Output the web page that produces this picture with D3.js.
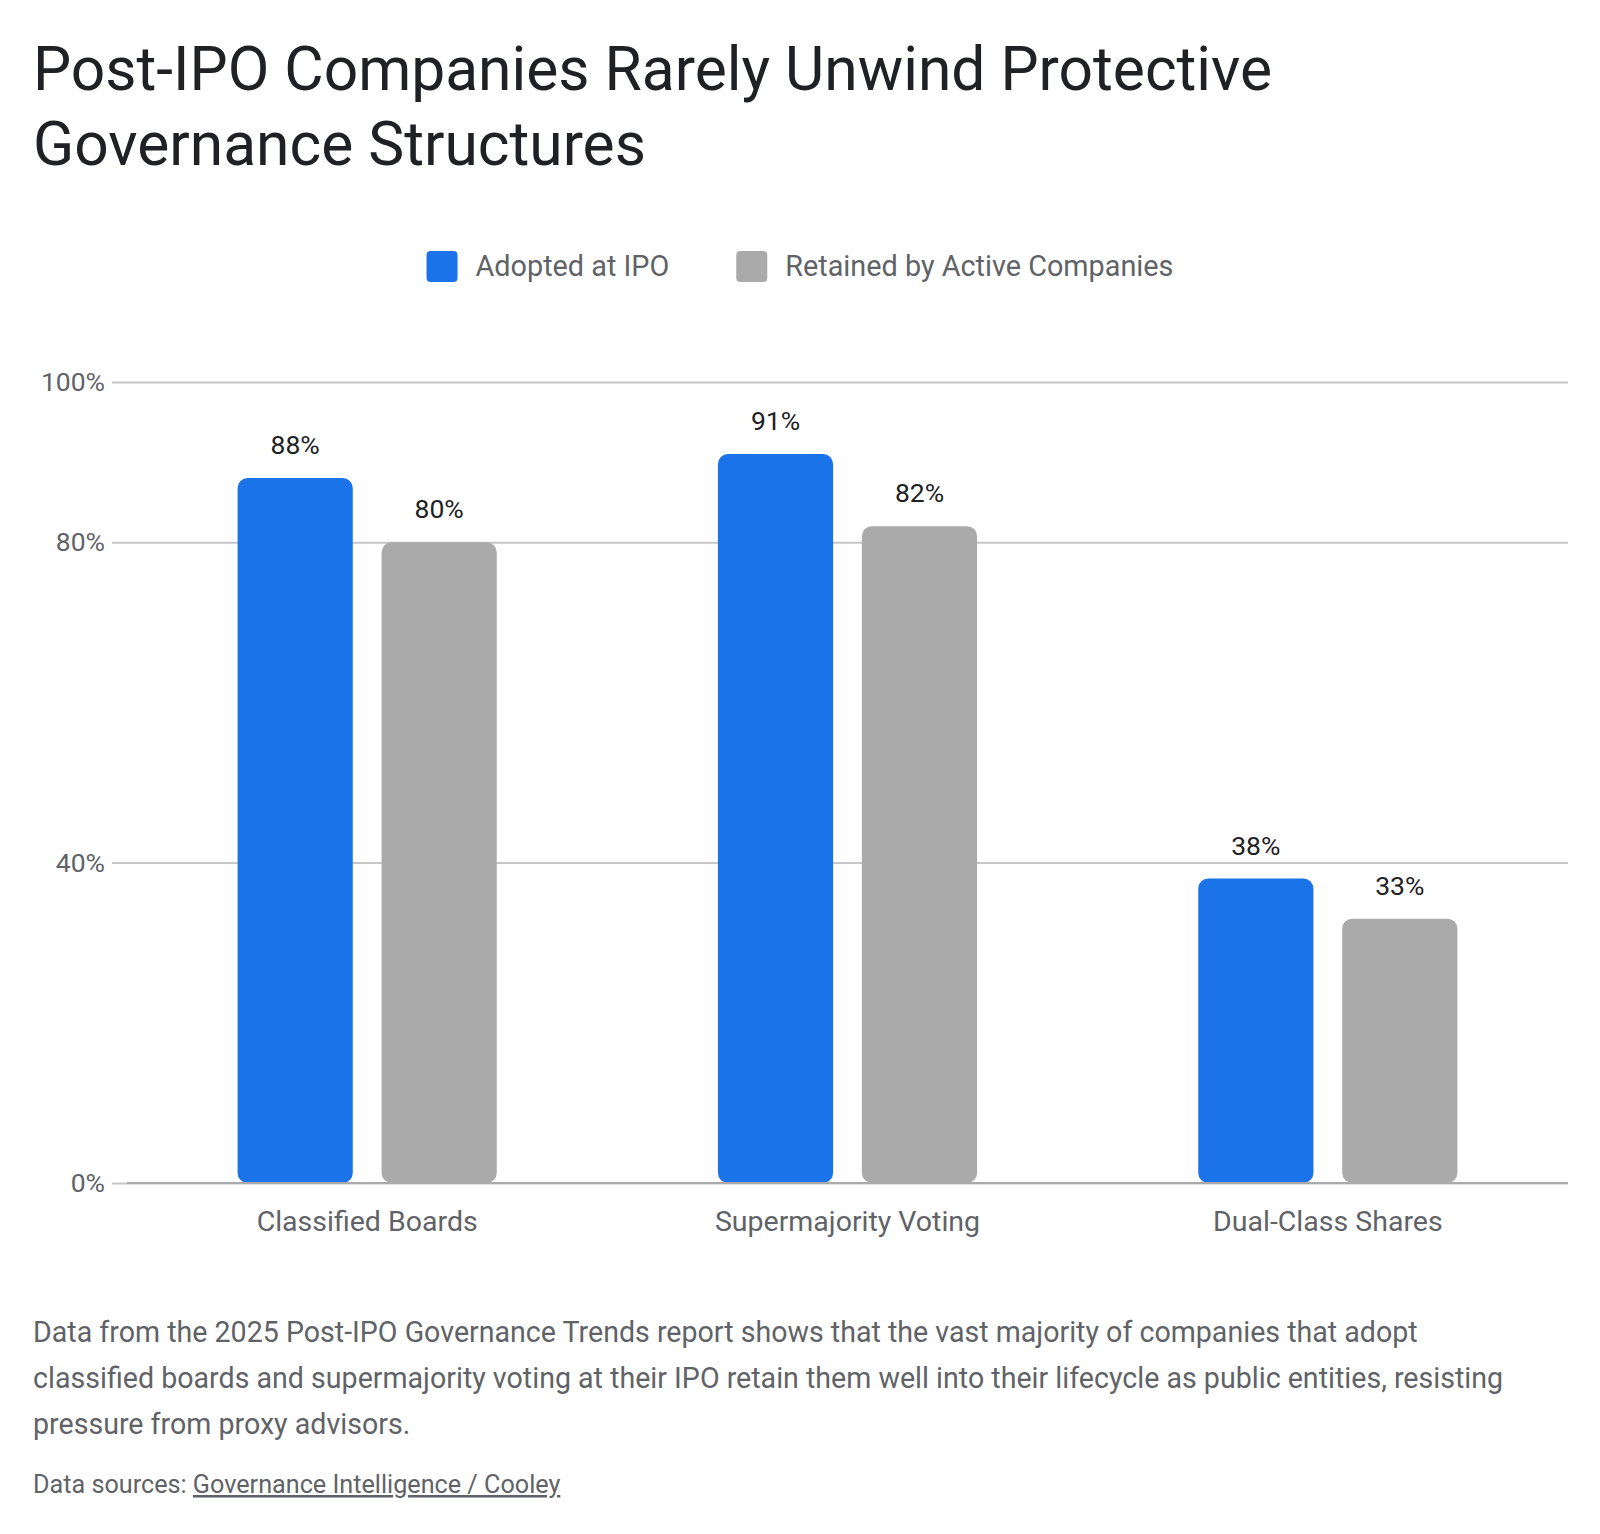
<!DOCTYPE html>
<html>
<head>
<meta charset="utf-8">
<script src="https://cdn.jsdelivr.net/npm/d3@7"></script>
<style>
  body { margin: 0; background: #fff; }
  svg { display: block; font-family: Roboto, "Noto Sans", sans-serif; }
</style>
</head>
<body>
<div id="chart-area"></div>
<script>
// data
const categories = ["Classified Boards", "Supermajority Voting", "Dual-Class Shares"];
const seriesNames = ["Adopted at IPO", "Retained by Active Companies"];
const adoptedAtIpo = [88, 91, 38];
const retainedByActive = [80, 82, 33];
const yTicks = [0, 40, 80, 100];

const titleLines = ["Post-IPO Companies Rarely Unwind Protective", "Governance Structures"];
const noteLines = [
  "Data from the 2025 Post-IPO Governance Trends report shows that the vast majority of companies that adopt",
  "classified boards and supermajority voting at their IPO retain them well into their lifecycle as public entities, resisting",
  "pressure from proxy advisors."
];
const sourceLabel = "Data sources: ";
const sourceLink = "Governance Intelligence / Cooley";

const colors = ["#1a73e8", "#aaaaaa"];

// dimensions
const W = 1600, H = 1534;
const margin = { top: 382, right: 32, bottom: 351, left: 127 };
const width = W - margin.left - margin.right,
      height = H - margin.top - margin.bottom;

const svg = d3.select("#chart-area")
  .append("svg")
    .attr("width", W)
    .attr("height", H);

// title
svg.append("g").selectAll("text")
  .data(titleLines)
  .enter().append("text")
    .attr("x", 33)
    .attr("y", (d, i) => 90 + i * 75)
    .attr("font-size", 60.5)
    .attr("fill", "#202124")
    .text(d => d);

// legend
const legend = svg.append("g");
const items = legend.selectAll("g")
  .data(seriesNames)
  .enter().append("g");
items.append("rect")
  .attr("width", 31).attr("height", 31).attr("rx", 4)
  .attr("y", 251)
  .attr("fill", (d, i) => colors[i]);
items.append("text")
  .attr("x", 49)
  .attr("y", 276)
  .attr("font-size", 28.8)
  .attr("fill", "#5f6368")
  .text(d => d);
let lx = 0;
const widths = [];
items.each(function() { widths.push(this.getBBox().width); });
items.attr("transform", (d, i) => {
  const t = "translate(" + lx + ",0)";
  lx += widths[i] + 67;
  return t;
});
const legendW = lx - 67;
legend.attr("transform", "translate(" + (W / 2 - legendW / 2) + ",0)");

const g = svg.append("g")
  .attr("transform", "translate(" + margin.left + "," + margin.top + ")");

// scales
const x0 = d3.scaleBand()
  .domain(categories)
  .range([0, width])
  .padding(0);

const x1 = d3.scaleBand()
  .domain(seriesNames)
  .range([0, x0.bandwidth()])
  .paddingInner(0.2)
  .paddingOuter(0.768);

const y = d3.scaleLinear()
  .domain([0, 100])
  .range([height, 0]);

// gridlines + y labels
const yg = g.append("g")
  .attr("transform", "translate(" + width + ",0)")
  .call(d3.axisLeft(y).tickValues(yTicks).tickSize(width + 15).tickPadding(7).tickFormat(d => d + "%"));
yg.select(".domain").remove();
yg.selectAll(".tick line").attr("stroke", "#c6c6c6").attr("stroke-width", 2);
yg.selectAll(".tick text")
  .attr("font-size", 26.5)
  .attr("fill", "#5f6368")
  .attr("font-family", "Roboto, sans-serif");

// bars
const rows = categories.map((c, i) => ({
  category: c,
  values: [
    { series: seriesNames[0], value: adoptedAtIpo[i], color: colors[0] },
    { series: seriesNames[1], value: retainedByActive[i], color: colors[1] }
  ]
}));

const groups = g.selectAll(".group")
  .data(rows)
  .enter().append("g")
    .attr("class", "group")
    .attr("transform", d => "translate(" + x0(d.category) + ",0)");

groups.selectAll("rect")
  .data(d => d.values)
  .enter().append("rect")
    .attr("x", d => x1(d.series))
    .attr("y", d => y(d.value))
    .attr("width", x1.bandwidth())
    .attr("height", d => y(0) - y(d.value))
    .attr("rx", 10)
    .attr("fill", d => d.color);

groups.selectAll(".label")
  .data(d => d.values)
  .enter().append("text")
    .attr("class", "label")
    .attr("x", d => x1(d.series) + x1.bandwidth() / 2)
    .attr("y", d => y(d.value) - 24)
    .attr("text-anchor", "middle")
    .attr("font-size", 26.5)
    .attr("fill", "#202124")
    .text(d => d.value + "%");

// baseline
g.append("line")
  .attr("x1", 0).attr("x2", width)
  .attr("y1", y(0)).attr("y2", y(0))
  .attr("stroke", "#aaaaaa").attr("stroke-width", 2);

// x-axis labels
const xg = g.append("g")
  .attr("transform", "translate(0," + height + ")")
  .call(d3.axisBottom(x0).tickSize(0).tickPadding(0));
xg.select(".domain").remove();
xg.selectAll(".tick text")
  .attr("dy", 0)
  .attr("y", 48)
  .attr("font-size", 28.5)
  .attr("fill", "#5f6368")
  .attr("font-family", "Roboto, sans-serif");

// note
svg.append("g").selectAll("text")
  .data(noteLines)
  .enter().append("text")
    .attr("x", 33)
    .attr("y", (d, i) => 1342 + i * 46)
    .attr("font-size", 28.6)
    .attr("fill", "#5f6368")
    .text(d => d);

// source
const src = svg.append("text")
  .attr("x", 33)
  .attr("y", 1493)
  .attr("font-size", 25.2)
  .attr("fill", "#5f6368");
src.append("tspan").text(sourceLabel);
src.append("tspan").attr("text-decoration", "underline").text(sourceLink);
</script>
</body>
</html>
